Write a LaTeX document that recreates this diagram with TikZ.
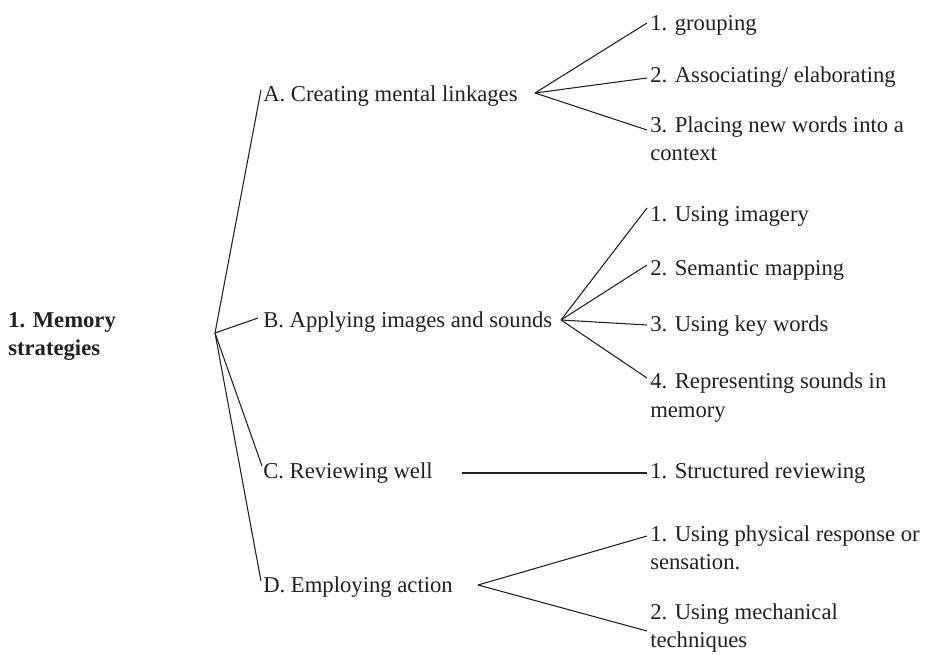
\documentclass[tikz,border=0pt]{standalone}
\usepackage{fontspec}
\setmainfont{Liberation Serif}
\definecolor{txt}{HTML}{231F20}
\begin{document}
\begin{tikzpicture}[x=0.75pt,y=-0.75pt,
  lbl/.style={anchor=base west,inner sep=0pt,align=left,text=txt,font=\fontsize{17}{21}\selectfont},
  conn/.style={line width=0.8pt,draw=txt}]
\useasboundingbox (0,0) rectangle (931,655);
% root (base anchor of a two-line node = baseline of its last line)
\node[lbl,font=\fontsize{17}{21}\selectfont\bfseries] (root) at (8,356) {1. Memory\\strategies};
\coordinate (rb) at (215,333);
% level 1
\node[lbl] (A) at (263,102) {A. Creating mental linkages};
\node[lbl] (B) at (263,328) {B. Applying images and sounds};
\node[lbl] (C) at (263,479) {C. Reviewing well};
\node[lbl] (D) at (263,592) {D. Employing action};
% level 2
\node[lbl] (A1) at (650,31) {1. grouping};
\node[lbl] (A2) at (650,83) {2. Associating/ elaborating};
\node[lbl] (A3) at (650,161) {3. Placing new words into a\\context};
\node[lbl] (B1) at (650,222) {1. Using imagery};
\node[lbl] (B2) at (650,276) {2. Semantic mapping};
\node[lbl] (B3) at (650,332) {3. Using key words};
\node[lbl] (B4) at (650,417) {4. Representing sounds in\\memory};
\node[lbl] (C1) at (650,479) {1. Structured reviewing};
\node[lbl] (D1) at (650,569) {1. Using physical response or\\sensation.};
\node[lbl] (D2) at (650,647) {2. Using mechanical\\techniques};
% branch points
\coordinate (ab) at (535,93);
\coordinate (bb) at (561,320);
\coordinate (cb) at (462,473);
\coordinate (db) at (478,585);
% connectors root
\draw[conn] (rb) -- ([shift={(-2,-12)}]A.base west);
\draw[conn] (rb) -- ([shift={(-5,-10)}]B.base west);
\draw[conn] (rb) -- ([shift={(-1,-13)}]C.base west);
\draw[conn] (rb) -- ([shift={(-2,-11)}]D.base west);
% A fan
\draw[conn] (ab) -- ([shift={(-3,-8)}]A1.base west);
\draw[conn] (ab) -- ([shift={(-3,-5)}]A2.base west);
\draw[conn] (ab) -- ([shift={(-3,-31)}]A3.base west);
% B fan
\draw[conn] (bb) -- ([shift={(-3,-14)}]B1.base west);
\draw[conn] (bb) -- ([shift={(-3,-11)}]B2.base west);
\draw[conn] (bb) -- ([shift={(-3,-7)}]B3.base west);
\draw[conn] (bb) -- ([shift={(-3,-39)}]B4.base west);
% C
\draw[conn] (cb) -- ([shift={(-3,-6)}]C1.base west);
% D fan
\draw[conn] (db) -- ([shift={(-3,-33)}]D1.base west);
\draw[conn] (db) -- ([shift={(-3,-16)}]D2.base west);
\end{tikzpicture}
\end{document}
